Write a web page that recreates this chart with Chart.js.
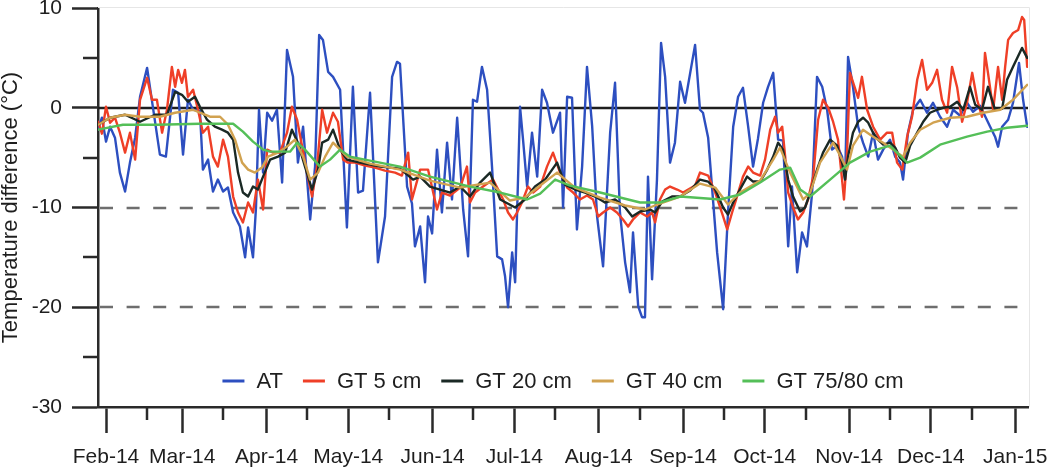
<!DOCTYPE html>
<html><head><meta charset="utf-8">
<script src="https://cdn.jsdelivr.net/npm/chart.js@4.4.1/dist/chart.umd.min.js"></script>
<style>html,body{margin:0;padding:0;background:#fff}#wrap{width:1048px;height:474px;position:relative}</style>
</head><body><div id="wrap"><canvas id="c"></canvas></div>
<script>
// x values are days since 1 Feb 2014
const monthLabels = ['Feb-14','Mar-14','Apr-14','May-14','Jun-14','Jul-14','Aug-14','Sep-14','Oct-14','Nov-14','Dec-14','Jan-15'];
const monthStarts = [0,28,59,89,120,150,181,212,242,273,303,334];
const midMonths = [15,43,74,104,135,165,196,227,257,288,318];
const yMinorTicks = [5,-5,-15,-25];
const dashedLevels = [-10,-20];
const zeroLevel = 0;
const seriesNames = ['AT','GT 5 cm','GT 20 cm','GT 40 cm','GT 75/80 cm'];

const AT = [[-2.9,-2.2],[-1.5,-1.0],[0,-3.4],[1.5,-1.9],[3.3,-3.0],[5.1,-6.5],[7.0,-8.4],[8.8,-5.5],[10.7,-3.0],[12.5,1.1],
[15.1,4.0],[19.8,-4.7],[22.0,-4.9],[24.6,1.8],[26.5,1.5],[28.3,-4.7],[30.1,0.8],[32.0,-0.2],[34.5,-0.3],[35.6,-6.2],
[37.5,-5.2],[39.3,-8.4],[41.1,-7.2],[43.0,-8.4],[44.8,-8.0],[46.7,-10.5],[49.2,-11.9],[51.1,-15.0],[52.2,-12.0],[54.0,-15.0],
[55.1,-10.0],[56.2,-0.2],[57.7,-6.5],[59.2,-0.5],[61.0,-1.3],[62.8,-0.2],[64.7,-7.5],[66.5,5.8],[68.7,3.1],[70.5,-5.5],
[72.4,-1.9],[75.0,-11.2],[76.8,-5.9],[78.3,7.3],[79.7,6.8],[81.6,3.6],[83.4,3.1],[86.0,1.8],[88.5,-12.0],[90.7,2.1],
[92.6,-8.5],[94.4,-8.3],[97.0,1.5],[99.9,-15.5],[102.5,-10.9],[105.1,3.1],[106.9,4.6],[108.0,4.4],[110.6,-7.9],[112.4,-9.6],
[113.5,-13.9],[115.4,-11.9],[117.2,-17.5],[118.3,-10.9],[119.8,-12.6],[121.6,-4.2],[123.4,-10.5],[125.3,-3.5],[127.1,-9.2],[129.0,-1.0],
[131.2,-10.2],[133.0,-14.9],[134.8,0.8],[136.3,0.6],[138.1,4.1],[140.0,1.8],[141.8,-5.9],[143.7,-14.9],[145.5,-15.2],[146.6,-16.9],
[147.7,-20.0],[149.2,-14.5],[150.3,-17.5],[152.1,0.1],[153.2,-3.2],[154.7,-7.9],[156.5,-2.5],[158.4,-6.9],[160.2,1.8],[162.0,0.5],
[164.2,-2.5],[166.8,-0.5],[167.9,-10.0],[169.4,1.1],[171.2,1.0],[173.0,-12.2],[174.9,-5.9],[176.7,4.1],[178.6,-1.9],[180.4,-10.9],
[182.6,-15.9],[185.2,-2.5],[187.0,2.5],[188.8,-10.5],[190.7,-15.5],[192.5,-18.5],[193.6,-12.5],[195.5,-19.9],[196.9,-21.0],[198.0,-21.0],
[199.1,-6.9],[200.6,-17.2],[202.4,-7.2],[203.9,6.5],[205.4,3.1],[207.2,-5.5],[209.0,-3.5],[210.9,2.6],[212.7,0.5],[216.4,6.3],
[218.2,-0.2],[219.3,-0.5],[221.2,-3.0],[224.5,-14.5],[226.7,-20.2],[228.5,-10.5],[230.4,-1.9],[232.2,1.1],[234.0,2.0],[235.9,-1.9],
[237.7,-5.9],[239.5,-3.1],[241.4,0.5],[243.2,2.1],[245.1,3.5],[246.9,-3.2],[248.7,-3.3],[250.6,-13.9],[252.0,-7.9],[253.9,-16.5],
[255.7,-12.5],[257.5,-13.9],[259.4,-8.5],[261.2,3.1],[263.1,2.1],[264.9,-0.2],[266.7,-4.2],[268.6,-3.8],[270.4,-4.9],[271.5,-7.2],
[272.6,5.1],[274.4,2.1],[276.3,-1.9],[278.1,-3.5],[280.0,-4.9],[281.8,-2.5],[283.6,-5.2],[285.5,-4.2],[288.0,-3.2],[289.9,-4.9],
[291.7,-5.5],[292.8,-7.2],[294.6,-2.5],[296.5,-0.2],[299.1,0.8],[301.6,-0.5],[303.8,0.5],[306.4,-0.9],[309.0,-1.9],[311.2,-0.2],
[313.8,-0.8],[316.3,0.5],[318.5,-0.4],[321.1,0.2],[324.8,-1.9],[326.6,-2.9],[327.7,-3.9],[329.2,-1.9],[331.4,-1.2],[333.2,0.5],
[335.4,4.5],[336.9,0.8],[338.4,-1.9]];

const GT5 = [[-2.9,-1.4],[-1.5,-2.6],[0,0.1],[1.5,-1.5],[3.3,-1.0],[5.1,-2.5],[7.0,-4.5],[8.8,-2.5],[10.7,-5.2],[12.5,0.8],
[15.1,3.0],[16.9,0.8],[18.7,0.8],[20.6,-2.5],[22.4,-0.2],[24.2,4.1],[25.4,2.1],[26.5,3.8],[27.9,2.5],[29.0,3.8],
[30.1,1.1],[32.0,1.8],[33.8,-0.2],[35.6,-2.5],[37.5,-1.9],[39.3,-4.9],[41.1,-5.9],[43.0,-3.2],[44.8,-4.9],[46.7,-8.9],
[48.5,-10.5],[50.3,-11.5],[52.2,-9.5],[54.0,-10.5],[55.8,-7.2],[57.7,-10.2],[59.2,-4.2],[61.4,-4.5],[63.9,-4.5],[66.5,-2.5],
[68.3,0.1],[70.2,-1.2],[72.0,-3.8],[73.8,-6.5],[75.7,-8.9],[77.5,-5.9],[79.4,-0.2],[81.2,-2.5],[83.4,-0.5],[85.2,-1.4],
[87.1,-5.2],[88.9,-5.5],[91.5,-5.5],[95.2,-5.8],[98.8,-6.0],[102.5,-6.3],[106.2,-6.5],[108.7,-6.8],[111.0,-4.5],[112.4,-9.2],
[115.4,-6.2],[118.3,-6.2],[121.6,-10.2],[123.4,-8.5],[126.4,-8.8],[130.1,-8.0],[132.6,-5.9],[133.7,-9.5],[135.6,-8.5],[138.5,-7.9],
[142.2,-7.2],[145.9,-9.2],[147.7,-10.5],[149.5,-11.2],[151.0,-10.5],[152.8,-9.5],[155.0,-7.9],[156.9,-8.5],[159.5,-7.9],[162.0,-5.9],
[164.2,-4.5],[166.8,-6.5],[169.4,-8.0],[171.6,-8.5],[174.1,-9.2],[176.7,-8.8],[178.9,-9.2],[180.8,-10.9],[182.6,-10.5],[185.2,-10.0],
[187.7,-10.5],[189.9,-11.2],[191.8,-11.9],[193.6,-11.2],[196.2,-10.5],[198.8,-10.9],[200.6,-10.5],[201.7,-11.5],[203.5,-9.2],[205.4,-8.2],
[207.2,-7.9],[209.8,-8.2],[212.0,-8.5],[216.4,-7.8],[218.2,-6.5],[221.2,-6.8],[223.8,-8.5],[226.7,-10.9],[228.2,-12.2],[230.0,-10.5],
[231.8,-8.9],[234.0,-6.9],[235.9,-5.9],[237.7,-6.5],[240.3,-6.8],[242.1,-5.2],[244.0,-2.2],[245.8,-0.9],[246.9,-2.5],[248.4,-1.9],
[249.5,-4.9],[250.6,-8.5],[252.4,-10.0],[254.2,-11.2],[256.1,-10.5],[257.9,-9.2],[259.8,-6.9],[261.6,-1.2],[263.4,0.8],[265.3,0.0],
[267.1,-1.4],[268.9,-3.2],[270.4,-7.2],[271.1,-9.2],[272.2,-4.8],[273.3,3.5],[276.3,1.0],[277.7,3.1],[279.6,-0.2],[281.8,-1.9],
[284.4,-3.2],[286.9,-2.5],[288.8,-2.5],[290.6,-5.5],[292.5,-6.2],[294.3,-2.9],[296.1,-0.9],[298.0,2.8],[299.8,4.8],
[301.6,1.8],[303.5,2.5],[305.3,3.8],[307.1,0.8],[309.0,-0.5],[310.8,4.1],[312.7,2.0],[314.5,-1.4],[316.3,0.5],[318.2,3.5],
[320.0,0.8],[321.8,-0.9],[322.9,5.5],[324.0,3.5],[325.9,-0.2],[327.7,4.1],[329.2,0.8],[330.3,4.1],[331.4,6.8],[333.2,7.5],
[335.1,7.8],[336.5,9.1],[337.3,8.8],[338.4,4.1]];

const GT20 = [[-2.9,-1.7],[1.5,-1.0],[7.0,-0.7],[12.5,-1.4],[18.0,-0.7],[22.4,-0.7],[25.4,1.6],[27.9,1.3],[30.1,0.6],[32.7,1.1],
[34.5,0.1],[37.1,-1.2],[40.0,-1.9],[42.6,-2.2],[44.8,-2.5],[46.7,-3.2],[48.5,-6.5],[50.3,-8.5],[52.2,-8.9],[54.0,-7.9],
[55.8,-8.2],[57.7,-6.9],[60.3,-5.2],[63.2,-4.9],[65.8,-4.5],[68.3,-2.2],[70.5,-3.5],[73.1,-5.9],[75.7,-8.2],[77.9,-6.2],
[79.4,-3.5],[81.6,-3.2],[83.4,-2.2],[86.0,-4.2],[88.5,-5.2],[93.3,-5.5],[100.7,-5.9],[108.0,-6.1],[112.8,-7.2],[115.4,-6.9],
[119.0,-7.9],[122.7,-8.2],[126.4,-8.5],[130.1,-7.9],[133.7,-8.9],[137.4,-7.5],[141.1,-6.5],[144.8,-9.2],[150.3,-10.0],[153.9,-9.2],
[157.6,-7.9],[161.3,-7.2],[165.7,-5.5],[168.6,-7.7],[172.3,-8.2],[176.0,-8.5],[179.7,-8.9],[183.3,-9.5],[187.0,-9.2],[190.7,-10.0],
[193.3,-10.9],[196.2,-10.4],[199.9,-10.2],[201.7,-10.5],[204.3,-9.4],[207.9,-8.9],[210.9,-8.9],[214.6,-8.3],[218.2,-7.2],[221.2,-7.4],
[223.8,-8.2],[226.7,-10.0],[228.5,-10.7],[230.4,-9.5],[232.9,-8.2],[235.5,-6.9],[237.7,-7.4],[240.3,-7.4],[242.9,-6.2],[245.1,-4.9],
[246.9,-3.5],[248.7,-4.2],[250.6,-7.2],[252.4,-8.9],[255.0,-10.4],[256.8,-10.0],[258.7,-8.5],[261.2,-6.2],[263.4,-4.5],[266.0,-3.2],
[268.6,-3.8],[270.4,-5.5],[271.5,-7.2],[272.6,-4.9],[274.4,-2.5],[276.3,-1.4],[278.1,-1.0],[280.0,-1.5],[281.8,-2.5],[283.6,-3.2],
[285.5,-3.7],[288.0,-3.5],[289.9,-4.0],[291.7,-5.0],[293.6,-5.5],[295.4,-3.8],[298.0,-2.5],[300.2,-1.4],[302.7,-0.5],[305.3,-0.2],
[307.5,0.0],[310.1,0.1],[312.7,0.6],[314.9,-0.2],[317.4,2.1],[319.3,0.3],[321.8,-0.2],[324.0,2.1],[326.6,-0.2],[329.2,-0.1],
[331.0,2.8],[333.2,4.1],[336.5,6.0],[338.4,5.0]];

const GT40 = [[-2.9,-1.7],[1.5,-1.0],[7.0,-0.7],[12.5,-0.9],[19.8,-0.9],[25.4,-0.5],[32.0,-0.2],[34.5,-0.5],[38.2,-0.9],[41.9,-0.9],
[44.8,-1.7],[47.4,-3.2],[50.0,-5.5],[52.2,-6.2],[54.7,-6.5],[57.3,-6.0],[59.5,-4.9],[63.2,-4.5],[66.9,-3.8],[69.4,-3.2],
[72.4,-4.9],[75.0,-7.2],[77.9,-6.5],[80.5,-4.9],[83.4,-3.5],[86.0,-4.2],[88.5,-4.9],[97.0,-5.6],[108.0,-6.2],[119.0,-7.3],
[130.1,-8.0],[141.1,-7.5],[148.4,-9.3],[153.9,-9.0],[159.5,-7.8],[165.7,-6.5],[172.3,-8.0],[181.5,-9.0],[190.7,-9.8],[198.0,-10.2],
[203.5,-9.6],[210.9,-8.9],[218.2,-7.6],[223.8,-8.0],[228.5,-9.7],[232.9,-8.5],[240.3,-7.3],[245.1,-5.2],[247.6,-4.0],[251.3,-6.5],
[256.1,-9.2],[258.7,-8.5],[262.3,-5.5],[267.1,-3.5],[269.7,-4.8],[272.2,-6.2],[274.4,-3.8],[278.1,-2.2],[281.8,-2.9],[285.5,-3.5],
[289.1,-4.2],[292.8,-4.9],[295.4,-3.5],[299.1,-2.2],[303.8,-1.5],[310.1,-1.0],[316.3,-0.9],[322.2,-0.5],[328.5,-0.2],[333.2,0.8],
[338.4,2.3]];

const GT75 = [[-2.9,-2.2],[6.2,-1.7],[18.7,-1.7],[34.5,-1.6],[46.7,-1.6],[50.3,-2.4],[54.0,-3.4],[57.7,-4.2],[60.3,-4.4],[67.6,-4.4],
[70.2,-3.5],[73.1,-4.2],[78.6,-5.9],[82.3,-5.2],[86.0,-4.2],[89.6,-4.9],[108.0,-5.9],[119.0,-6.9],[133.7,-7.9],[144.8,-8.5],
[154.7,-9.2],[159.5,-8.6],[165.0,-7.2],[170.5,-7.8],[181.5,-8.5],[196.2,-9.5],[203.5,-9.5],[210.9,-8.9],[225.6,-9.2],[232.9,-8.7],
[240.3,-7.5],[247.6,-6.2],[251.3,-6.0],[255.0,-8.2],[258.7,-8.9],[266.0,-7.2],[273.3,-5.5],[280.7,-4.4],[288.0,-3.8],[294.3,-5.5],
[299.1,-5.0],[306.4,-3.7],[316.3,-2.9],[323.7,-2.4],[331.0,-2.0],[338.4,-1.8]];

const seriesData = [AT, GT5, GT20, GT40, GT75];
const seriesColors = ['#2d4fc0', '#ef3f27', '#1a2925', '#d1a250', '#54bf58'];

const FONT = '"Liberation Sans", Arial, sans-serif';

const decor = {
  id: 'decor',
  beforeDatasetsDraw(chart) {
    const {ctx, chartArea: a, scales: {y}} = chart;
    ctx.save();
    ctx.strokeStyle = '#e6e6e6'; ctx.lineWidth = 1;
    ctx.beginPath(); ctx.moveTo(a.left, a.top - 0.5); ctx.lineTo(a.right + 1.5, a.top - 0.5); ctx.lineTo(a.right + 1.5, a.bottom); ctx.stroke();
    ctx.strokeStyle = '#6e6e6e'; ctx.lineWidth = 2.5; ctx.setLineDash([13, 13.6]); ctx.lineDashOffset = -2;
    dashedLevels.forEach(v => { const py = Math.round(y.getPixelForValue(v)); ctx.beginPath(); ctx.moveTo(a.left, py); ctx.lineTo(a.right, py); ctx.stroke(); });
    ctx.setLineDash([]);
    ctx.strokeStyle = '#1e1e1e'; ctx.lineWidth = 2.5;
    const pz = Math.round(y.getPixelForValue(zeroLevel));
    ctx.beginPath(); ctx.moveTo(a.left, pz); ctx.lineTo(a.right, pz); ctx.stroke();
    ctx.restore();
  },
  afterDraw(chart) {
    const {ctx, chartArea: a, scales: {x, y}} = chart;
    ctx.save();
    ctx.strokeStyle = '#2a2a2a'; ctx.lineWidth = 2.5;
    midMonths.forEach(d => { const px = Math.round(x.getPixelForValue(d)); ctx.beginPath(); ctx.moveTo(px, a.bottom); ctx.lineTo(px, a.bottom + 13); ctx.stroke(); });
    yMinorTicks.forEach(v => { const py = Math.round(y.getPixelForValue(v)); ctx.beginPath(); ctx.moveTo(a.left, py); ctx.lineTo(a.left - 15, py); ctx.stroke(); });
    // legend inside plot area
    ctx.font = '22px ' + FONT;
    ctx.textBaseline = 'middle'; ctx.textAlign = 'left';
    const items = chart.data.datasets.map(d => ({label: d.label, color: d.borderColor, w: ctx.measureText(d.label).width}));
    const lineW = 22, gapT = 12, gapI = 20;
    const total = items.reduce((s, it) => s + lineW + gapT + it.w, 0) + gapI * (items.length - 1);
    let lx = (a.left + a.right) / 2 - total / 2;
    const ly = a.bottom - 26;
    items.forEach(it => {
      ctx.strokeStyle = it.color; ctx.lineWidth = 3;
      ctx.beginPath(); ctx.moveTo(lx, ly); ctx.lineTo(lx + lineW, ly); ctx.stroke();
      ctx.fillStyle = '#1e1e1e';
      ctx.fillText(it.label, lx + lineW + gapT, ly + 1);
      lx += lineW + gapT + it.w + gapI;
    });
    ctx.restore();
  }
};

new Chart(document.getElementById('c'), {
  type: 'line',
  data: {
    datasets: seriesNames.map((name, i) => ({
      label: name,
      data: seriesData[i].map(p => ({x: p[0], y: p[1]})),
      borderColor: seriesColors[i],
      backgroundColor: seriesColors[i],
      borderWidth: 2.4,
      pointRadius: 0,
      tension: 0,
      fill: false,
      order: seriesNames.length - i
    }))
  },
  options: {
    responsive: true,
    maintainAspectRatio: false,
    animation: false,
    layout: {padding: {top: 8, right: 20, left: 0, bottom: 0}},
    plugins: {legend: {display: false}, tooltip: {enabled: false}},
    elements: {line: {borderJoinStyle: 'round', borderCapStyle: 'round'}},
    scales: {
      x: {
        type: 'linear',
        min: -2.94,
        max: 338.7,
        afterBuildTicks: s => { s.ticks = monthStarts.map(v => ({value: v})); },
        afterFit: s => { s.height = 67; s.paddingLeft = 0; s.paddingRight = 0; },
        grid: {display: true, drawOnChartArea: false, drawTicks: true, tickLength: 26, tickWidth: 2.5, tickColor: '#2a2a2a'},
        border: {display: true, color: '#2a2a2a', width: 2.5},
        ticks: {
          autoSkip: false, maxRotation: 0, minRotation: 0, padding: 12,
          color: '#1e1e1e', font: {family: FONT, size: 21},
          callback: (v, i) => monthLabels[i]
        }
      },
      y: {
        min: -30,
        max: 10,
        afterFit: s => { s.width = 98; s.paddingTop = 0; s.paddingBottom = 0; },
        grid: {display: true, drawOnChartArea: false, drawTicks: true, tickLength: 26, tickWidth: 2.5, tickColor: '#2a2a2a'},
        border: {display: true, color: '#2a2a2a', width: 2.5},
        ticks: {stepSize: 10, padding: 10, color: '#1e1e1e', font: {family: FONT, size: 21}},
        title: {display: true, text: 'Temperature difference (°C)', color: '#1e1e1e', font: {family: FONT, size: 22, lineHeight: 1.0}, padding: {top: 0, bottom: 0}}
      }
    }
  },
  plugins: [decor]
});
</script>
</body></html>
